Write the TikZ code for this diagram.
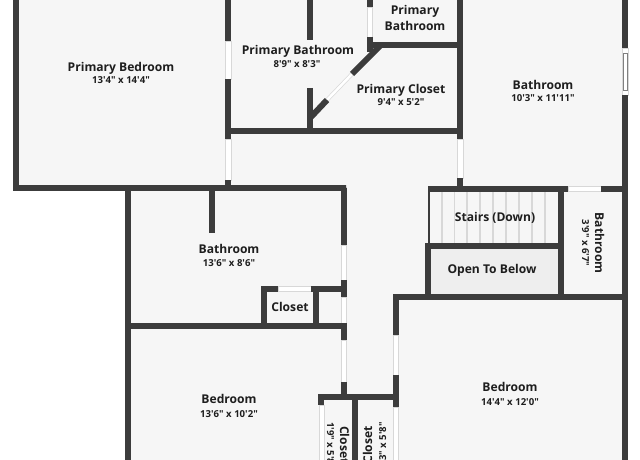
\documentclass[tikz,border=0pt]{standalone}
\usepackage{fontspec}
\usepackage{tikz}
\newfontfamily\planfont{Open Sans}
\definecolor{wallgray}{HTML}{3C3C3C}
\definecolor{floorgray}{HTML}{F6F6F6}
\definecolor{voidgray}{HTML}{EEEEEE}
\definecolor{panegray}{HTML}{D8D8D8}
\definecolor{inkgray}{HTML}{1E1E1E}
\tikzset{
  wall/.style={draw=wallgray,line width=6pt,line join=miter},
  pane/.style={draw=panegray,fill=white,line width=0.7pt},
  tread/.style={draw=panegray,line width=1.3pt},
  room/.style={font=\planfont\bfseries\fontsize{12.1}{14}\selectfont,text=inkgray,inner sep=0pt,text height=10pt,text depth=0pt},
  size/.style={font=\planfont\bfseries\fontsize{9.6}{11}\selectfont,text=inkgray,inner sep=0pt,text height=8pt,text depth=0pt},
}
\begin{document}
\begin{tikzpicture}[x=1pt,y=-1pt]
\useasboundingbox (0,0) rectangle (640,460);
\fill[floorgray] (14,0) -- (625,0) -- (625,460) -- (127,460) -- (127,188) -- (14,188) -- cycle;
\fill[voidgray] (428,246) rectangle (561,297);

% stairs
\draw[tread] (442,191) -- (442,243) (454.5,191) -- (454.5,243) (467,191) -- (467,243)
  (480,191) -- (480,243) (493,191) -- (493,243) (506,191) -- (506,243)
  (519,191) -- (519,243) (532,191) -- (532,243) (545,191) -- (545,243);
\draw[draw=wallgray,line width=2pt] (429,186) -- (429,245);

% windows
\draw[pane] (225,41) rectangle (231,79);
\draw[pane] (225,139) rectangle (231,180);
\draw[pane] (367,7) rectangle (372,37);
\draw[pane] (457,139) rectangle (463,178);
\draw[pane] (568,186) rectangle (601,191);
\draw[pane] (622.5,48) rectangle (628,95);
\draw[pane,draw=gray] (623.5,53) rectangle (627,90);
\draw[pane] (341,245) rectangle (346.5,280);
\draw[pane] (341,297) rectangle (346.5,323);
\draw[pane] (341,340) rectangle (346.5,382);
\draw[pane] (278,286) rectangle (311,291);
\draw[pane] (393,335) rectangle (398,375);
\draw[pane] (393,407) rectangle (398,461);
\draw[pane] (319,405) rectangle (324,461);
\draw[draw=panegray,line width=4pt] (327,100) -- (352,74);
\draw[draw=white,line width=2.6pt] (327,100) -- (352,74);

% outer walls
\draw[wall] (15.5,0) -- (15.5,188) -- (346,188) -- (344,188) -- (344,245);
\draw[wall] (228,0) -- (228,41);
\draw[wall] (228,79) -- (228,139);
\draw[wall] (228,180) -- (228,186);
\draw[wall] (228,131) -- (463,131);
\draw[wall] (309.5,0) -- (309.5,40);
\draw[wall] (309.5,88) -- (309.5,131);
\draw[wall] (369.5,0) -- (369.5,7);
\draw[wall] (369.5,37) -- (369.5,52);
\draw[wall] (369.5,45) -- (460,45);
\draw[wall] (311,117) -- (327,100);
\draw[wall] (352,74) -- (380,46);
\draw[wall] (460,0) -- (460,139);
\draw[wall] (460,178) -- (460,186);
\draw[wall] (625,0) -- (625,48);
\draw[wall] (625,95) -- (625,460);

% stair block
\draw[wall] (428,188.5) -- (568,188.5);
\draw[wall] (601,188.5) -- (625,188.5);
\draw[wall] (425,245.5) -- (561,245.5);
\draw[wall] (560.5,188) -- (560.5,297);
\draw[wall] (428,243) -- (428,297);
\draw[wall] (395.5,335) -- (395.5,297) -- (625,297);
\draw[wall] (395.5,375) -- (395.5,407);

% middle rooms
\draw[wall] (127.5,188) -- (127.5,460);
\draw[wall] (212,188) -- (212,233);
\draw[wall] (127,326) -- (344,326);
\draw[wall] (264,326) -- (264,288.5) -- (278,288.5);
\draw[wall] (311,288.5) -- (344,288.5);
\draw[wall] (316,288.5) -- (316,326);
\draw[wall] (344,280) -- (344,297);
\draw[wall] (344,323) -- (344,340);
\draw[wall] (344,382) -- (344,397);
\draw[wall] (318,397) -- (396,397);
\draw[wall] (321,394) -- (321,405);
\draw[wall] (354.5,397) -- (354.5,460);

% labels
\node[room] (bedprimary) at (121,66) {Primary Bedroom};
\node[size] (bedprimarysize) at (121,80) {13'4" x 14'4"};
\node[room] (bathprimary) at (298,50) {Primary Bathroom};
\node[size] (bathprimarysize) at (297,64) {8'9" x 8'3"};
\node[room] (bathsmalla) at (415,10) {Primary};
\node[room] (bathsmallb) at (415,26) {Bathroom};
\node[room] (closetprimary) at (401,88) {Primary Closet};
\node[size] (closetprimarysize) at (401,102) {9'4" x 5'2"};
\node[room] (bathnorth) at (543,84) {Bathroom};
\node[size] (bathnorthsize) at (543,98) {10'3" x 11'11"};
\node[room] (stairs) at (495,216) {Stairs (Down)};
\node[room] (openbelow) at (492,268) {Open To Below};
\node[room,rotate=-90] (batheast) at (600,243) {Bathroom};
\node[size,rotate=-90] (batheastsize) at (586,243) {3'9" x 6'7"};
\node[room] (bathwest) at (229,248) {Bathroom};
\node[size] (bathwestsize) at (229,262) {13'6" x 8'6"};
\node[room] (closethall) at (290,306) {Closet};
\node[room] (bedwest) at (229,398) {Bedroom};
\node[size] (bedwestsize) at (229,413) {13'6" x 10'2"};
\node[room] (bedeast) at (510,386) {Bedroom};
\node[size] (bedeastsize) at (510,401) {14'4" x 12'0"};
\node[room,rotate=-90,anchor=west] (closeta) at (345,426) {Closet};
\node[size,rotate=-90,anchor=west] (closetasize) at (331,422) {1'9" x 5'8"};
\node[room,rotate=90,anchor=east] (closetb) at (367,426) {Closet};
\node[size,rotate=90,anchor=east] (closetbsize) at (382,422) {1'3" x 5'8"};
\end{tikzpicture}
\end{document}
